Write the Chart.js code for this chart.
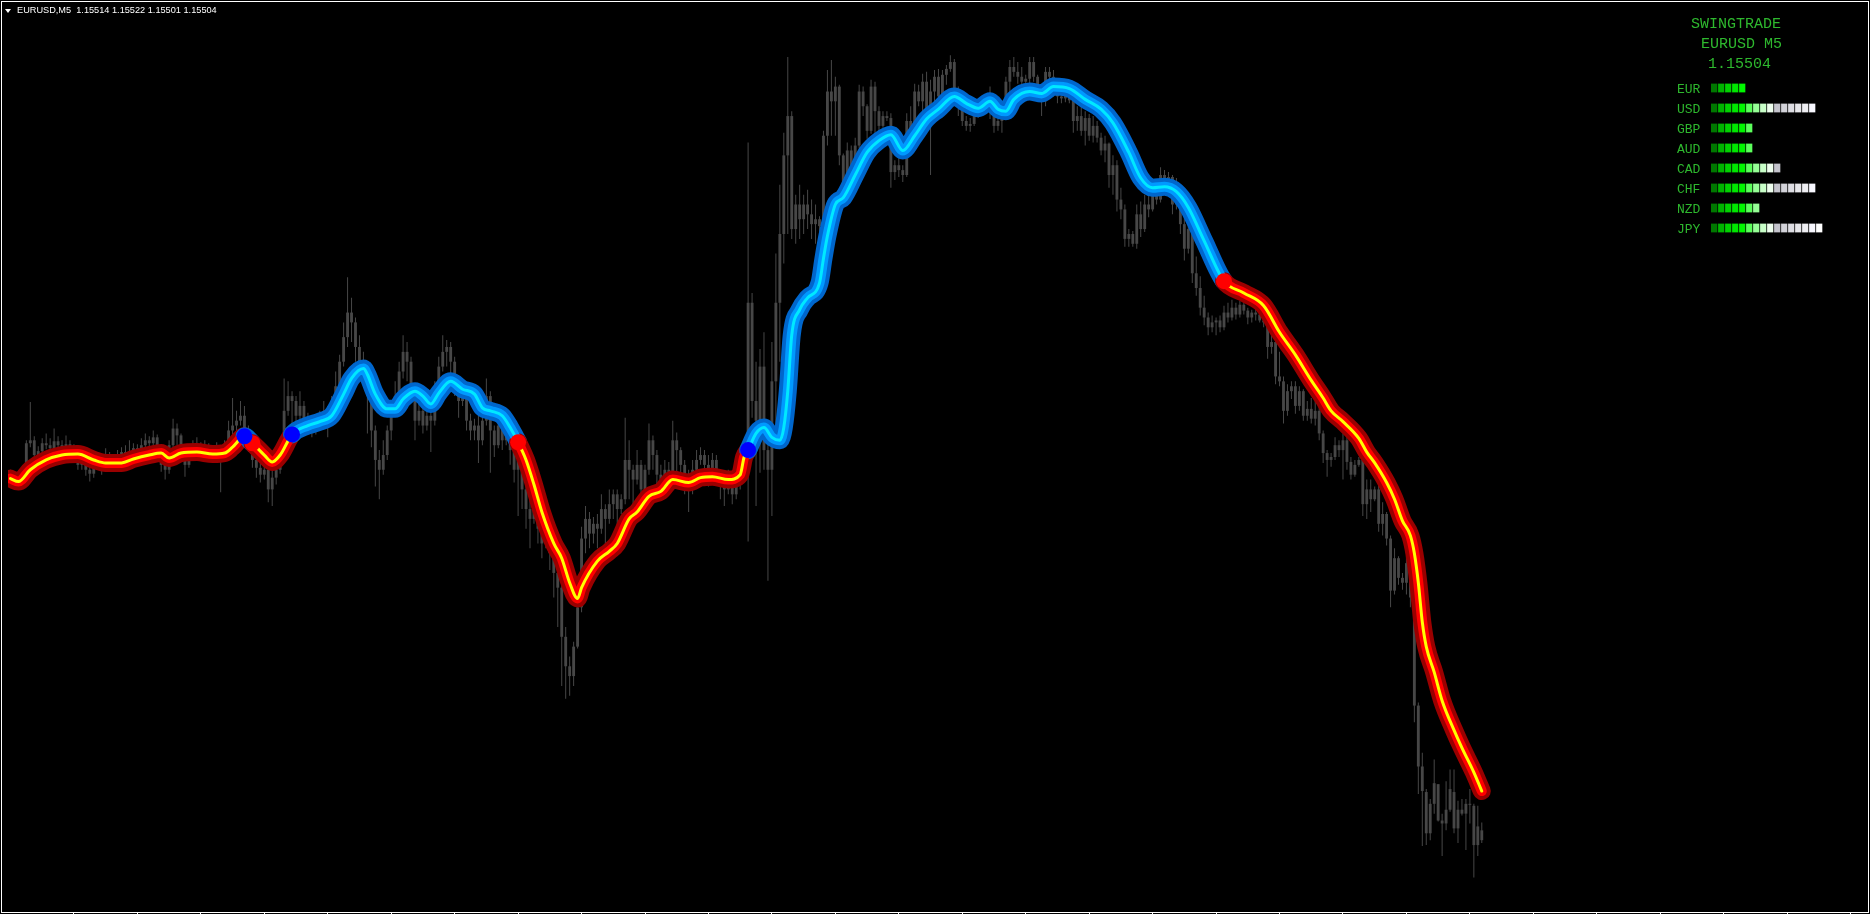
<!DOCTYPE html>
<html>
<head>
<meta charset="utf-8">
<title>EURUSD M5 - SwingTrade</title>
<script src="https://cdn.jsdelivr.net/npm/chart.js@4.4.1/dist/chart.umd.min.js"></script>
<style>
  html, body { margin: 0; padding: 0; background: #000; overflow: hidden; }
  #main { position: absolute; left: 0; top: 0; }
  #header { position: absolute; left: 17px; top: 5px; color: #fff; font: 9.2px "Liberation Sans", Arial, sans-serif; line-height: 11px; white-space: pre; }
  #tri { position: absolute; left: 5px; top: 9px; width: 0; height: 0; border-left: 3.5px solid transparent; border-right: 3.5px solid transparent; border-top: 4px solid #fff; }
  .panel { position: absolute; color: #2eb82e; font-family: "Liberation Mono", "Courier New", monospace; white-space: pre; }
  .big { font-size: 15px; line-height: 15px; }
  .small { font-size: 13px; line-height: 13px; }
  #strength { position: absolute; left: 1711px; top: 78px; }
</style>
</head>
<body>
<canvas id="main" width="1870" height="914"></canvas>
<div id="tri"></div>
<div id="header"></div>
<div class="panel big" style="left:1691px;top:17px">SWINGTRADE</div>
<div class="panel big" id="pSym" style="left:1701px;top:37px"></div>
<div class="panel big" id="pPrice" style="left:1708px;top:57px"></div>
<div id="labels"></div>
<canvas id="strength" width="112" height="160"></canvas>
<script>
// EURUSD M5, 372 bars, oldest first
const open = [
  1.15875,1.15871,1.15868,1.15873,1.15874,1.15908,1.15911,1.15896,1.15900,1.15908,
  1.15906,1.15903,1.15910,1.15906,1.15904,1.15907,1.15903,1.15896,1.15886,1.15889,
  1.15881,1.15877,1.15885,1.15889,1.15883,1.15887,1.15891,1.15888,1.15893,1.15899,
  1.15896,1.15899,1.15903,1.15896,1.15906,1.15911,1.15908,1.15914,1.15901,1.15886,
  1.15881,1.15906,1.15923,1.15916,1.15899,1.15886,1.15896,1.15903,1.15906,1.15901,
  1.15904,1.15899,1.15896,1.15901,1.15894,1.15903,1.15921,1.15926,1.15931,1.15936,
  1.15921,1.15906,1.15891,1.15883,1.15876,1.15881,1.15861,1.15873,1.15881,1.15896,
  1.15941,1.15956,1.15951,1.15936,1.15946,1.15931,1.15926,1.15921,1.15926,1.15931,
  1.15941,1.15931,1.15946,1.15966,1.15991,1.16016,1.16041,1.16031,1.16006,1.15991,
  1.15981,1.15956,1.15921,1.15891,1.15881,1.15896,1.15921,1.15941,1.15956,1.15981,
  1.16001,1.15991,1.15956,1.15931,1.15941,1.15926,1.15936,1.15931,1.15956,1.15986,
  1.16001,1.16006,1.15991,1.15961,1.15951,1.15956,1.15931,1.15921,1.15926,1.15911,
  1.15931,1.15956,1.15921,1.15906,1.15926,1.15911,1.15921,1.15901,1.15881,1.15891,
  1.15861,1.15841,1.15831,1.15841,1.15821,1.15806,1.15816,1.15796,1.15776,1.15761,
  1.15711,1.15681,1.15671,1.15701,1.15741,1.15811,1.15831,1.15816,1.15826,1.15821,
  1.15841,1.15831,1.15846,1.15856,1.15841,1.15851,1.15891,1.15881,1.15871,1.15886,
  1.15861,1.15881,1.15911,1.15896,1.15876,1.15871,1.15881,1.15873,1.15911,1.15901,
  1.15886,1.15871,1.15861,1.15881,1.15891,1.15896,1.15886,1.15881,1.15891,1.15876,
  1.15866,1.15861,1.15871,1.15856,1.15866,1.15886,1.15881,1.16051,1.15951,1.15931,
  1.15986,1.15901,1.15881,1.15971,1.16051,1.16121,1.16201,1.16241,1.16126,1.16151,
  1.16136,1.16151,1.16141,1.16131,1.16136,1.16129,1.16221,1.16266,1.16256,1.16271,
  1.16201,1.16171,1.16206,1.16186,1.16211,1.16266,1.16251,1.16226,1.16271,1.16246,
  1.16231,1.16241,1.16239,1.16184,1.16191,1.16186,1.16181,1.16236,1.16221,1.16266,
  1.16256,1.16276,1.16246,1.16266,1.16281,1.16261,1.16283,1.16289,1.16296,1.16266,
  1.16251,1.16236,1.16231,1.16233,1.16243,1.16251,1.16256,1.16246,1.16256,1.16231,
  1.16236,1.16246,1.16276,1.16291,1.16286,1.16281,1.16276,1.16279,1.16296,1.16281,
  1.16261,1.16256,1.16286,1.16281,1.16266,1.16261,1.16259,1.16263,1.16257,1.16236,
  1.16241,1.16226,1.16239,1.16221,1.16231,1.16219,1.16206,1.16213,1.16181,1.16191,
  1.16156,1.16146,1.16116,1.16121,1.16111,1.16141,1.16126,1.16151,1.16146,1.16166,
  1.16156,1.16181,1.16176,1.16179,1.16151,1.16166,1.16131,1.16106,1.16126,1.16081,
  1.16066,1.16046,1.16036,1.16026,1.16031,1.16033,1.16026,1.16041,1.16036,1.16046,
  1.16039,1.16049,1.16043,1.16036,1.16041,1.16039,1.16033,1.16031,1.16006,1.16011,
  1.15976,1.15971,1.15941,1.15961,1.15966,1.15946,1.15961,1.15936,1.15943,1.15933,
  1.15941,1.15918,1.15898,1.15891,1.15894,1.15906,1.15901,1.15911,1.15889,1.15876,
  1.15886,1.15891,1.15846,1.15861,1.15851,1.15861,1.15826,1.15836,1.15811,1.15758,
  1.15791,1.15771,1.15766,1.15786,1.15751,1.15641,1.15579,1.15553,1.15511,1.15541,
  1.15561,1.15524,1.15521,1.15535,1.15553,1.15516,1.15535,1.15531,1.15541,1.15539,
  1.15499,1.15514
];
const high = [
  1.15881,1.15877,1.15879,1.15881,1.15911,1.15950,1.15915,1.15905,1.15913,1.15918,
  1.15913,1.15923,1.15915,1.15911,1.15916,1.15911,1.15907,1.15901,1.15896,1.15893,
  1.15885,1.15891,1.15896,1.15893,1.15903,1.15899,1.15896,1.15901,1.15904,1.15906,
  1.15911,1.15908,1.15907,1.15913,1.15918,1.15915,1.15921,1.15917,1.15905,1.15891,
  1.15911,1.15933,1.15928,1.15918,1.15903,1.15901,1.15911,1.15914,1.15909,1.15911,
  1.15908,1.15906,1.15909,1.15905,1.15911,1.15931,1.15954,1.15941,1.15951,1.15946,
  1.15926,1.15911,1.15896,1.15889,1.15891,1.15886,1.15881,1.15889,1.15901,1.15974,
  1.15971,1.15961,1.15956,1.15961,1.15951,1.15939,1.15931,1.15936,1.15941,1.15951,
  1.15946,1.15956,1.15981,1.15998,1.16031,1.16077,1.16056,1.16036,1.16018,1.16001,
  1.15989,1.15961,1.15926,1.15901,1.15911,1.15926,1.15951,1.15971,1.15991,1.16018,
  1.16011,1.15996,1.15961,1.15951,1.15949,1.15946,1.15941,1.15971,1.15996,1.16018,
  1.16013,1.16011,1.15996,1.15968,1.15966,1.15961,1.15938,1.15933,1.15936,1.15941,
  1.15974,1.15961,1.15926,1.15938,1.15931,1.15926,1.15924,1.15906,1.15911,1.15896,
  1.15881,1.15861,1.15856,1.15846,1.15826,1.15831,1.15821,1.15801,1.15791,1.15766,
  1.15721,1.15691,1.15706,1.15748,1.15823,1.15844,1.15838,1.15833,1.15836,1.15856,
  1.15846,1.15861,1.15861,1.15861,1.15856,1.15934,1.15911,1.15886,1.15901,1.15891,
  1.15886,1.15928,1.15916,1.15901,1.15886,1.15891,1.15889,1.15931,1.15919,1.15904,
  1.15891,1.15881,1.15891,1.15901,1.15904,1.15901,1.15896,1.15898,1.15896,1.15881,
  1.15876,1.15881,1.15876,1.15873,1.15894,1.15896,1.16214,1.16061,1.15991,1.16004,
  1.16021,1.15931,1.16011,1.16101,1.16171,1.16224,1.16301,1.16246,1.16161,1.16171,
  1.16161,1.16166,1.16156,1.16151,1.16139,1.16226,1.16288,1.16298,1.16281,1.16273,
  1.16203,1.16214,1.16211,1.16219,1.16273,1.16271,1.16253,1.16278,1.16276,1.16251,
  1.16246,1.16246,1.16244,1.16196,1.16201,1.16191,1.16244,1.16251,1.16274,1.16273,
  1.16284,1.16286,1.16278,1.16288,1.16289,1.16288,1.16293,1.16303,1.16299,1.16271,
  1.16254,1.16241,1.16239,1.16246,1.16256,1.16261,1.16263,1.16271,1.16259,1.16243,
  1.16254,1.16281,1.16298,1.16301,1.16296,1.16291,1.16283,1.16301,1.16301,1.16283,
  1.16268,1.16291,1.16291,1.16288,1.16271,1.16264,1.16266,1.16266,1.16261,1.16251,
  1.16251,1.16246,1.16243,1.16241,1.16236,1.16224,1.16221,1.16214,1.16201,1.16196,
  1.16168,1.16151,1.16126,1.16124,1.16151,1.16154,1.16161,1.16161,1.16178,1.16176,
  1.16189,1.16186,1.16184,1.16181,1.16178,1.16171,1.16144,1.16136,1.16131,1.16098,
  1.16078,1.16058,1.16041,1.16038,1.16036,1.16038,1.16048,1.16051,1.16054,1.16051,
  1.16053,1.16054,1.16046,1.16044,1.16046,1.16044,1.16044,1.16036,1.16021,1.16016,
  1.16001,1.15976,1.15968,1.15971,1.15971,1.15966,1.15963,1.15951,1.15954,1.15951,
  1.15946,1.15921,1.15901,1.15898,1.15914,1.15911,1.15918,1.15916,1.15894,1.15891,
  1.15894,1.15893,1.15871,1.15871,1.15864,1.15868,1.15848,1.15838,1.15814,1.15801,
  1.15793,1.15776,1.15794,1.15788,1.15758,1.15644,1.15593,1.15556,1.15546,1.15586,
  1.15561,1.15531,1.15564,1.15576,1.15576,1.15544,1.15546,1.15546,1.15556,1.15541,
  1.15539,1.15522
];
const low = [
  1.15865,1.15861,1.15863,1.15867,1.15871,1.15904,1.15893,1.15891,1.15896,1.15902,
  1.15899,1.15899,1.15901,1.15899,1.15901,1.15896,1.15889,1.15881,1.15881,1.15875,
  1.15869,1.15873,1.15881,1.15876,1.15879,1.15883,1.15881,1.15884,1.15889,1.15886,
  1.15891,1.15893,1.15884,1.15893,1.15901,1.15901,1.15905,1.15893,1.15879,1.15871,
  1.15877,1.15903,1.15906,1.15889,1.15874,1.15883,1.15891,1.15899,1.15894,1.15896,
  1.15891,1.15893,1.15893,1.15858,1.15889,1.15899,1.15917,1.15911,1.15926,1.15908,
  1.15899,1.15883,1.15873,1.15868,1.15871,1.15848,1.15844,1.15866,1.15877,1.15891,
  1.15936,1.15924,1.15926,1.15931,1.15924,1.15919,1.15914,1.15917,1.15921,1.15926,
  1.15914,1.15927,1.15941,1.15961,1.15986,1.16006,1.16011,1.15991,1.15981,1.15968,
  1.15918,1.15904,1.15864,1.15851,1.15876,1.15891,1.15911,1.15936,1.15951,1.15974,
  1.15971,1.15951,1.15911,1.15926,1.15918,1.15921,1.15899,1.15926,1.15951,1.15981,
  1.15986,1.15976,1.15956,1.15934,1.15946,1.15921,1.15911,1.15911,1.15888,1.15906,
  1.15926,1.15878,1.15894,1.15903,1.15901,1.15906,1.15886,1.15868,1.15834,1.15841,
  1.15821,1.15801,1.15826,1.15806,1.15791,1.15801,1.15779,1.15751,1.15721,1.15661,
  1.15648,1.15651,1.15661,1.15699,1.15736,1.15796,1.15801,1.15806,1.15801,1.15816,
  1.15803,1.15826,1.15831,1.15811,1.15836,1.15846,1.15851,1.15844,1.15866,1.15846,
  1.15856,1.15876,1.15881,1.15861,1.15858,1.15866,1.15863,1.15869,1.15878,1.15871,
  1.15856,1.15838,1.15856,1.15876,1.15886,1.15871,1.15864,1.15876,1.15866,1.15851,
  1.15844,1.15856,1.15846,1.15851,1.15861,1.15871,1.15808,1.15934,1.15844,1.15878,
  1.15881,1.15768,1.15834,1.15911,1.15991,1.16091,1.16121,1.16116,1.16111,1.16116,
  1.16121,1.16126,1.16116,1.16111,1.16116,1.16116,1.16211,1.16221,1.16221,1.16191,
  1.16164,1.16166,1.16176,1.16181,1.16208,1.16241,1.16218,1.16223,1.16221,1.16224,
  1.16229,1.16236,1.16168,1.16176,1.16179,1.16174,1.16179,1.16208,1.16218,1.16251,
  1.16241,1.16236,1.16181,1.16251,1.16256,1.16259,1.16273,1.16286,1.16261,1.16241,
  1.16231,1.16226,1.16225,1.16231,1.16239,1.16241,1.16243,1.16238,1.16224,1.16226,
  1.16224,1.16241,1.16264,1.16281,1.16274,1.16268,1.16271,1.16274,1.16276,1.16256,
  1.16241,1.16251,1.16278,1.16261,1.16254,1.16254,1.16255,1.16254,1.16224,1.16226,
  1.16221,1.16211,1.16216,1.16214,1.16214,1.16201,1.16194,1.16168,1.16161,1.16144,
  1.16136,1.16108,1.16108,1.16108,1.16106,1.16118,1.16123,1.16138,1.16144,1.16151,
  1.16153,1.16171,1.16171,1.16141,1.16146,1.16121,1.16094,1.16101,1.16071,1.16058,
  1.16038,1.16028,1.16018,1.16021,1.16018,1.16021,1.16023,1.16031,1.16033,1.16034,
  1.16036,1.16039,1.16029,1.16031,1.16033,1.16031,1.16026,1.15994,1.15999,1.15968,
  1.15966,1.15928,1.15936,1.15953,1.15938,1.15941,1.15931,1.15931,1.15928,1.15926,
  1.15911,1.15888,1.15874,1.15884,1.15891,1.15894,1.15871,1.15881,1.15871,1.15874,
  1.15884,1.15834,1.15831,1.15838,1.15849,1.15818,1.15814,1.15804,1.15741,1.15754,
  1.15764,1.15759,1.15754,1.15741,1.15624,1.15551,1.15498,1.15499,1.15504,1.15531,
  1.15523,1.15488,1.15514,1.15533,1.15511,1.15501,1.15529,1.15494,1.15521,1.15466,
  1.15488,1.15501
];
const close = [
  1.15871,1.15868,1.15873,1.15874,1.15908,1.15911,1.15896,1.15900,1.15908,1.15906,
  1.15903,1.15910,1.15906,1.15904,1.15907,1.15903,1.15896,1.15886,1.15889,1.15881,
  1.15877,1.15885,1.15889,1.15883,1.15887,1.15891,1.15888,1.15893,1.15899,1.15896,
  1.15899,1.15903,1.15896,1.15906,1.15911,1.15908,1.15914,1.15901,1.15886,1.15881,
  1.15906,1.15923,1.15916,1.15899,1.15886,1.15896,1.15903,1.15906,1.15901,1.15904,
  1.15899,1.15896,1.15901,1.15894,1.15903,1.15921,1.15926,1.15931,1.15936,1.15921,
  1.15906,1.15891,1.15883,1.15876,1.15881,1.15861,1.15873,1.15881,1.15896,1.15941,
  1.15956,1.15951,1.15936,1.15946,1.15931,1.15926,1.15921,1.15926,1.15931,1.15941,
  1.15931,1.15946,1.15966,1.15991,1.16016,1.16041,1.16031,1.16006,1.15991,1.15981,
  1.15956,1.15921,1.15891,1.15881,1.15896,1.15921,1.15941,1.15956,1.15981,1.16001,
  1.15991,1.15956,1.15931,1.15941,1.15926,1.15936,1.15931,1.15956,1.15986,1.16001,
  1.16006,1.15991,1.15961,1.15951,1.15956,1.15931,1.15921,1.15926,1.15911,1.15931,
  1.15956,1.15921,1.15906,1.15926,1.15911,1.15921,1.15901,1.15881,1.15891,1.15861,
  1.15841,1.15831,1.15841,1.15821,1.15806,1.15816,1.15796,1.15776,1.15761,1.15711,
  1.15681,1.15671,1.15701,1.15741,1.15811,1.15831,1.15816,1.15826,1.15821,1.15841,
  1.15831,1.15846,1.15856,1.15841,1.15851,1.15891,1.15881,1.15871,1.15886,1.15861,
  1.15881,1.15911,1.15896,1.15876,1.15871,1.15881,1.15873,1.15911,1.15901,1.15886,
  1.15871,1.15861,1.15881,1.15891,1.15896,1.15886,1.15881,1.15891,1.15876,1.15866,
  1.15861,1.15871,1.15856,1.15866,1.15886,1.15881,1.16051,1.15951,1.15931,1.15986,
  1.15901,1.15881,1.15971,1.16051,1.16121,1.16201,1.16241,1.16126,1.16151,1.16136,
  1.16151,1.16141,1.16131,1.16136,1.16129,1.16221,1.16266,1.16256,1.16271,1.16201,
  1.16171,1.16206,1.16186,1.16211,1.16266,1.16251,1.16226,1.16271,1.16246,1.16231,
  1.16241,1.16239,1.16184,1.16191,1.16186,1.16181,1.16236,1.16221,1.16266,1.16256,
  1.16276,1.16246,1.16266,1.16281,1.16261,1.16283,1.16289,1.16296,1.16266,1.16251,
  1.16236,1.16231,1.16233,1.16243,1.16251,1.16256,1.16246,1.16256,1.16231,1.16236,
  1.16246,1.16276,1.16291,1.16286,1.16281,1.16276,1.16279,1.16296,1.16281,1.16261,
  1.16256,1.16286,1.16281,1.16266,1.16261,1.16259,1.16263,1.16257,1.16236,1.16241,
  1.16226,1.16239,1.16221,1.16231,1.16219,1.16206,1.16213,1.16181,1.16191,1.16156,
  1.16146,1.16116,1.16121,1.16111,1.16141,1.16126,1.16151,1.16146,1.16166,1.16156,
  1.16181,1.16176,1.16179,1.16151,1.16166,1.16131,1.16106,1.16126,1.16081,1.16066,
  1.16046,1.16036,1.16026,1.16031,1.16033,1.16026,1.16041,1.16036,1.16046,1.16039,
  1.16049,1.16043,1.16036,1.16041,1.16039,1.16033,1.16031,1.16006,1.16011,1.15976,
  1.15971,1.15941,1.15961,1.15966,1.15946,1.15961,1.15936,1.15943,1.15933,1.15941,
  1.15918,1.15898,1.15891,1.15894,1.15906,1.15901,1.15911,1.15889,1.15876,1.15886,
  1.15891,1.15846,1.15861,1.15851,1.15861,1.15826,1.15836,1.15811,1.15758,1.15791,
  1.15771,1.15766,1.15786,1.15751,1.15641,1.15579,1.15554,1.15511,1.15541,1.15562,
  1.15524,1.15521,1.15535,1.15556,1.15516,1.15535,1.15531,1.15541,1.15540,1.15499,
  1.15518,1.15504
];

// swing line, sampled at bar indexes
const lineIdx = [
  0,2,5,9,13,17,21,24,28,31, 35,38,40,43,47,51,54,56,59,61,
  64,66,68,71,75,78,81,84,86,89, 90,92,95,97,99,102,104,106,108,111,
  114,117,119,121,124,126,128,130,132,134, 137,139,141,143,144,148,151,153,156,158,
  161,164,167,171,174,177,181,184,185,186, 188,190,192,194,195,196,197,199,201,204,
  205,206,208,210,213,216,219,222,225,228, 231,234,238,241,244,247,249,251,253,257,
  260,263,267,271,275,278,282,285,288,291, 294,297,301,306,311,316,320,324,328,331,
  333,336,340,342,344,347,349,351,353,354, 355,356,357,359,361,364,366,369,371
];
const lineVal = [
  1.15872,1.15869,1.15881,1.15891,1.15896,1.15897,1.15891,1.15888,1.15888,1.15892,
  1.15896,1.15898,1.15893,1.15898,1.15899,1.15897,1.15898,1.15904,1.15915,1.15908,
  1.15896,1.15889,1.15896,1.15917,1.15926,1.15930,1.15936,1.15958,1.15974,1.15984,
  1.15978,1.15958,1.15943,1.15943,1.15953,1.15961,1.15956,1.15948,1.15959,1.15971,
  1.15963,1.15958,1.15944,1.15941,1.15936,1.15924,1.15909,1.15891,1.15866,1.15838,
  1.15806,1.15791,1.15766,1.15750,1.15761,1.15788,1.15798,1.15806,1.15831,1.15838,
  1.15854,1.15859,1.15871,1.15868,1.15873,1.15874,1.15871,1.15876,1.15894,1.15901,
  1.15918,1.15924,1.15914,1.15911,1.15924,1.15961,1.16018,1.16044,1.16056,1.16071,
  1.16096,1.16119,1.16151,1.16158,1.16181,1.16204,1.16216,1.16222,1.16206,1.16221,
  1.16238,1.16248,1.16261,1.16254,1.16249,1.16256,1.16248,1.16246,1.16258,1.16266,
  1.16264,1.16271,1.16269,1.16258,1.16248,1.16234,1.16204,1.16178,1.16168,1.16169,
  1.16164,1.16148,1.16114,1.16073,1.16061,1.16048,1.16021,1.15998,1.15972,1.15954,
  1.15941,1.15930,1.15913,1.15899,1.15888,1.15868,1.15851,1.15829,1.15814,1.15796,
  1.15766,1.15726,1.15701,1.15675,1.15646,1.15616,1.15598,1.15573,1.15554
];

// bars where the swing line turns
const upTurns = [59, 71, 186];
const downTurns = [61, 128, 306];

// currency strength panel
const currencies = ['EUR', 'USD', 'GBP', 'AUD', 'CAD', 'CHF', 'NZD', 'JPY'];
const strength = [5, 15, 6, 6, 10, 15, 7, 16];
const blockColors = ['#007800', '#00b400', '#00d200', '#00e600', '#00f800', '#5cff5c', '#96ff96',
  '#c8ffc8', '#ecfcec', '#c4c4cc', '#d2d2d8', '#dcdce2', '#e6e6ea', '#eeeef2', '#f8f8ff', '#ffffff'];

const symbol = 'EURUSD';
const period = 'M5';

// ---- text ----
const last = close.length - 1;
document.getElementById('header').textContent =
  `${symbol},${period}  ${open[last].toFixed(5)} ${high[last].toFixed(5)} ${low[last].toFixed(5)} ${close[last].toFixed(5)}`;
document.getElementById('pSym').textContent = `${symbol} ${period}`;
document.getElementById('pPrice').textContent = close[last].toFixed(5);
const labelBox = document.getElementById('labels');
currencies.forEach((c, k) => {
  const d = document.createElement('div');
  d.className = 'panel small';
  d.style.left = '1677px';
  d.style.top = (83 + 20 * k) + 'px';
  d.textContent = c;
  labelBox.appendChild(d);
});

// ---- main chart ----
const bars = open.map((_, i) => i);
const wickData = bars.map(i => ({ x: i, y: [low[i], high[i]] }));
const bodyData = bars.map(i => ({ x: i, y: [open[i], close[i]] }));
const linePts = lineIdx.map((x, k) => ({ x, y: lineVal[k] }));
const dotPts = idx => idx.map(x => ({ x, y: lineVal[lineIdx.indexOf(x)] }));

const turns = upTurns.map(i => [i, true]).concat(downTurns.map(i => [i, false])).sort((a, b) => a[0] - b[0]);
function isUp(x) {
  let up = false;
  for (const [i, u] of turns) if (i <= x) up = u;
  return up;
}

function swingLayer(width, upColor, downColor, order) {
  return {
    type: 'line',
    data: linePts,
    order: order,
    borderWidth: width,
    borderColor: downColor,
    borderCapStyle: 'round',
    borderJoinStyle: 'round',
    cubicInterpolationMode: 'monotone',
    pointRadius: 0,
    pointHoverRadius: 0,
    segment: { borderColor: ctx => isUp(ctx.p0.parsed.x) ? upColor : downColor }
  };
}

const frame = {
  id: 'frame',
  afterDraw(chart) {
    const { ctx, scales: { x } } = chart;
    ctx.save();
    ctx.strokeStyle = '#ffffff';
    ctx.lineWidth = 1;
    ctx.strokeRect(1.5, 1.5, 1867, 911);
    ctx.beginPath();
    for (let i = 16; i <= x.max; i += 16) {
      const px = Math.floor(x.getPixelForValue(i)) + 0.5;
      ctx.moveTo(px, 912);
      ctx.lineTo(px, 914);
    }
    ctx.stroke();
    ctx.restore();
  }
};

new Chart(document.getElementById('main'), {
  type: 'bar',
  data: {
    datasets: [
      { type: 'line', data: dotPts(upTurns), showLine: false, order: 0,
        pointRadius: 8, pointHoverRadius: 8, pointBorderWidth: 0, pointBackgroundColor: '#0000ff' },
      { type: 'line', data: dotPts(downTurns), showLine: false, order: 0,
        pointRadius: 8, pointHoverRadius: 8, pointBorderWidth: 0, pointBackgroundColor: '#ff0000' },
      swingLayer(3, '#00e8ff', '#ffff00', 1),
      swingLayer(10, '#0099ff', '#ff0000', 2),
      swingLayer(18, '#0066cc', '#9a0000', 3),
      { data: bodyData, order: 4, grouped: false, maxBarThickness: 3, minBarLength: 1,
        backgroundColor: '#474747', borderWidth: 0 },
      { data: wickData, order: 5, grouped: false, maxBarThickness: 1,
        backgroundColor: '#474747', borderWidth: 0 }
    ]
  },
  options: {
    responsive: false,
    animation: false,
    events: [],
    layout: { padding: 0 },
    plugins: { legend: { display: false }, tooltip: { enabled: false } },
    scales: {
      x: { type: 'linear', min: -0.625, max: 466.875, offset: false, display: false, grid: { display: false } },
      y: { type: 'linear', min: 1.15437, max: 1.16351, display: false, grid: { display: false } }
    }
  },
  plugins: [frame]
});

// ---- strength blocks ----
new Chart(document.getElementById('strength'), {
  type: 'bar',
  data: {
    labels: currencies,
    datasets: blockColors.map((col, k) => ({
      data: strength.map(s => s > k ? 1 : null),
      backgroundColor: col,
      borderColor: '#000000',
      borderWidth: { right: 1, left: 0, top: 0, bottom: 0 },
      borderSkipped: false,
      barThickness: 9,
      stack: 's'
    }))
  },
  options: {
    indexAxis: 'y',
    responsive: false,
    animation: false,
    events: [],
    layout: { padding: 0 },
    plugins: { legend: { display: false }, tooltip: { enabled: false } },
    scales: {
      x: { stacked: true, min: 0, max: 16, display: false },
      y: { stacked: true, display: false }
    }
  }
});
</script>
</body>
</html>
